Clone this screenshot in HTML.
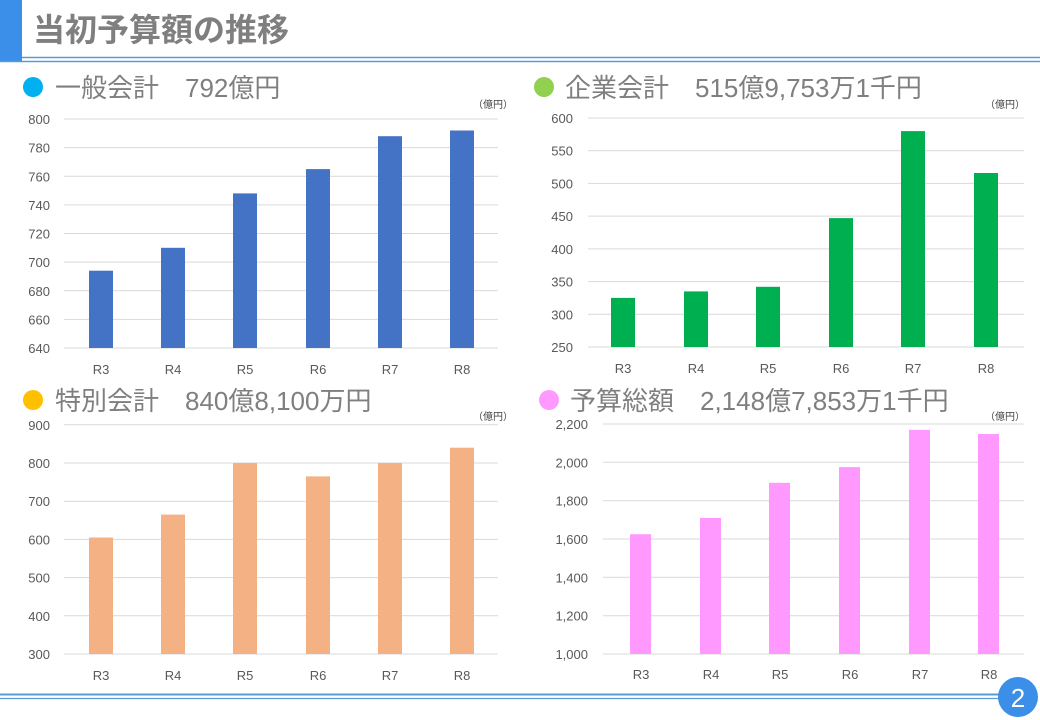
<!DOCTYPE html>
<html><head><meta charset="utf-8"><style>
body{margin:0;width:1040px;height:720px;overflow:hidden;background:#fff}
svg{display:block}
text{font-family:"Liberation Sans","Noto Sans CJK JP",sans-serif}
.t{font-size:13px;fill:#595959}
.h{font-size:26px;fill:#7f7f7f}
.u{font-size:10px;fill:#404040}
.g{stroke:#d9d9d9;stroke-width:1}
</style></head><body>
<svg width="1040" height="720" viewBox="0 0 1040 720">
<rect x="0" y="0" width="22" height="62" fill="#3b8fe8"/>
<text x="33" y="41" style="font-size:32px;font-weight:bold;fill:#7f7f7f">当初予算額の推移</text>
<line x1="22" y1="57.5" x2="1040" y2="57.5" stroke="#5b9bd5" stroke-width="1.5"/>
<line x1="0" y1="61.5" x2="1040" y2="61.5" stroke="#5b9bd5" stroke-width="1.5"/>
<line x1="0" y1="694.5" x2="1000" y2="694.5" stroke="#5b9bd5" stroke-width="2"/>
<line x1="0" y1="698.5" x2="1000" y2="698.5" stroke="#5b9bd5" stroke-width="1.2"/>
<circle cx="1018" cy="697" r="20" fill="#3b8fe8"/>
<text x="1018" y="707" text-anchor="middle" style="font-size:26px;fill:#fff">2</text>

<circle cx="33" cy="87" r="10" fill="#00b0f0"/>
<text class="h" x="55" y="97">一般会計　792億円</text>
<circle cx="544" cy="87" r="10" fill="#92d050"/>
<text class="h" x="565" y="97">企業会計　515億9,753万1千円</text>
<circle cx="33" cy="400" r="10" fill="#ffc000"/>
<text class="h" x="55" y="410">特別会計　840億8,100万円</text>
<circle cx="549" cy="400" r="10" fill="#ff99ff"/>
<text class="h" x="570" y="410">予算総額　2,148億7,853万1千円</text>
<text class="u" x="473" y="108">（億円）</text>
<text class="u" x="985" y="108">（億円）</text>
<text class="u" x="473" y="420">（億円）</text>
<text class="u" x="985" y="420">（億円）</text>

<g class="g">
<line x1="64" x2="498" y1="119" y2="119"/><line x1="64" x2="498" y1="147.6" y2="147.6"/><line x1="64" x2="498" y1="176.3" y2="176.3"/><line x1="64" x2="498" y1="204.9" y2="204.9"/><line x1="64" x2="498" y1="233.5" y2="233.5"/><line x1="64" x2="498" y1="262.1" y2="262.1"/><line x1="64" x2="498" y1="290.8" y2="290.8"/><line x1="64" x2="498" y1="319.4" y2="319.4"/><line x1="64" x2="498" y1="348" y2="348"/>
</g>
<g class="t" text-anchor="end">
<text x="50" y="124">800</text><text x="50" y="152.6">780</text><text x="50" y="181.3">760</text><text x="50" y="209.9">740</text><text x="50" y="238.5">720</text><text x="50" y="267.1">700</text><text x="50" y="295.8">680</text><text x="50" y="324.4">660</text><text x="50" y="353">640</text>
</g>
<g fill="#4472c4">
<rect x="89" y="270.7" width="24" height="77.3"/><rect x="161" y="247.8" width="24" height="100.2"/><rect x="233" y="193.4" width="24" height="154.6"/><rect x="306" y="169.1" width="24" height="178.9"/><rect x="378" y="136.2" width="24" height="211.8"/><rect x="450" y="130.5" width="24" height="217.5"/>
</g>
<g class="t" text-anchor="middle">
<text x="101" y="374">R3</text><text x="173" y="374">R4</text><text x="245" y="374">R5</text><text x="318" y="374">R6</text><text x="390" y="374">R7</text><text x="462" y="374">R8</text>
</g>

<g class="g">
<line x1="588" x2="1024" y1="118" y2="118"/><line x1="588" x2="1024" y1="150.7" y2="150.7"/><line x1="588" x2="1024" y1="183.4" y2="183.4"/><line x1="588" x2="1024" y1="216.1" y2="216.1"/><line x1="588" x2="1024" y1="248.9" y2="248.9"/><line x1="588" x2="1024" y1="281.6" y2="281.6"/><line x1="588" x2="1024" y1="314.3" y2="314.3"/><line x1="588" x2="1024" y1="347" y2="347"/>
</g>
<g class="t" text-anchor="end">
<text x="573" y="123">600</text><text x="573" y="155.7">550</text><text x="573" y="188.4">500</text><text x="573" y="221.1">450</text><text x="573" y="253.9">400</text><text x="573" y="286.6">350</text><text x="573" y="319.3">300</text><text x="573" y="352">250</text>
</g>
<g fill="#00b050">
<rect x="611" y="297.9" width="24" height="49.1"/><rect x="684" y="291.4" width="24" height="55.6"/><rect x="756" y="286.8" width="24" height="60.2"/><rect x="829" y="218.1" width="24" height="128.9"/><rect x="901" y="131.1" width="24" height="215.9"/><rect x="974" y="173" width="24" height="174"/>
</g>
<g class="t" text-anchor="middle">
<text x="623" y="373">R3</text><text x="696" y="373">R4</text><text x="768" y="373">R5</text><text x="841" y="373">R6</text><text x="913" y="373">R7</text><text x="986" y="373">R8</text>
</g>

<g class="g">
<line x1="64" x2="498" y1="424.8" y2="424.8"/><line x1="64" x2="498" y1="463" y2="463"/><line x1="64" x2="498" y1="501.2" y2="501.2"/><line x1="64" x2="498" y1="539.4" y2="539.4"/><line x1="64" x2="498" y1="577.6" y2="577.6"/><line x1="64" x2="498" y1="615.8" y2="615.8"/><line x1="64" x2="498" y1="654" y2="654"/>
</g>
<g class="t" text-anchor="end">
<text x="50" y="429.8">900</text><text x="50" y="468">800</text><text x="50" y="506.2">700</text><text x="50" y="544.4">600</text><text x="50" y="582.6">500</text><text x="50" y="620.8">400</text><text x="50" y="659">300</text>
</g>
<g fill="#f4b183">
<rect x="89" y="537.5" width="24" height="116.5"/><rect x="161" y="514.6" width="24" height="139.4"/><rect x="233" y="463" width="24" height="191"/><rect x="306" y="476.4" width="24" height="177.6"/><rect x="378" y="463" width="24" height="191"/><rect x="450" y="447.7" width="24" height="206.3"/>
</g>
<g class="t" text-anchor="middle">
<text x="101" y="680">R3</text><text x="173" y="680">R4</text><text x="245" y="680">R5</text><text x="318" y="680">R6</text><text x="390" y="680">R7</text><text x="462" y="680">R8</text>
</g>

<g class="g">
<line x1="603" x2="1024" y1="424" y2="424"/><line x1="603" x2="1024" y1="462.3" y2="462.3"/><line x1="603" x2="1024" y1="500.7" y2="500.7"/><line x1="603" x2="1024" y1="539" y2="539"/><line x1="603" x2="1024" y1="577.3" y2="577.3"/><line x1="603" x2="1024" y1="615.7" y2="615.7"/><line x1="603" x2="1024" y1="654" y2="654"/>
</g>
<g class="t" text-anchor="end">
<text x="588" y="429">2,200</text><text x="588" y="467.3">2,000</text><text x="588" y="505.7">1,800</text><text x="588" y="544">1,600</text><text x="588" y="582.3">1,400</text><text x="588" y="620.7">1,200</text><text x="588" y="659">1,000</text>
</g>
<g fill="#ff99ff">
<rect x="630" y="534.2" width="21" height="119.8"/><rect x="700" y="517.9" width="21" height="136.1"/><rect x="769" y="482.8" width="21" height="171.2"/><rect x="839" y="467.1" width="21" height="186.9"/><rect x="909" y="429.8" width="21" height="224.2"/><rect x="978" y="434" width="21" height="220"/>
</g>
<g class="t" text-anchor="middle">
<text x="641" y="679">R3</text><text x="711" y="679">R4</text><text x="780" y="679">R5</text><text x="850" y="679">R6</text><text x="920" y="679">R7</text><text x="989" y="679">R8</text>
</g>
</svg>
</body></html>
